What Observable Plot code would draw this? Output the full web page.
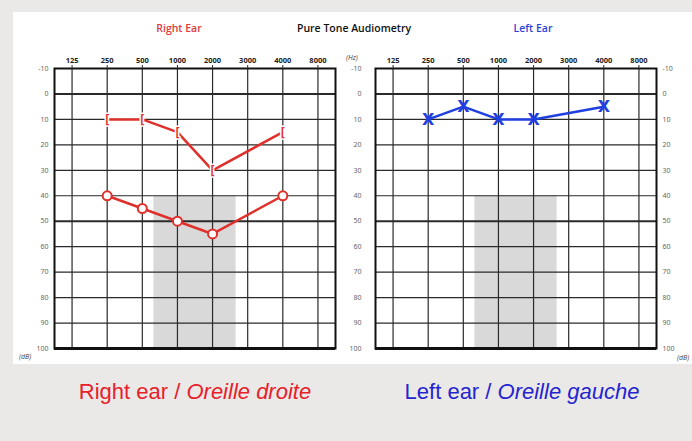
<!DOCTYPE html>
<html>
<head>
<meta charset="utf-8">
<script src="https://cdn.jsdelivr.net/npm/d3@7"></script>
<script src="https://cdn.jsdelivr.net/npm/@observablehq/plot@0.6"></script>
<style>
  html, body { margin: 0; padding: 0; }
  body { width: 692px; height: 441px; background: #ebe9e7; overflow: hidden; }
  #wrap { position: relative; width: 692px; height: 441px; }
  #panel { position: absolute; left: 13px; top: 12px; width: 679px; height: 352px; background: #fff; }
  .abs { position: absolute; white-space: nowrap; }
  .hdr { font-family: "Open Sans", sans-serif; font-weight: 600; font-size: 10.5px; transform: translate(-50%, -50%); }
  .unit { font-family: "Open Sans", sans-serif; font-style: italic; font-size: 7px; color: #444; transform: translate(0, -50%); }
  .big { font-family: "Liberation Sans", Arial, sans-serif; font-size: 22px; transform: translate(-50%, -50%); }
  .plot { position: absolute; top: 0; }
</style>
</head>
<body>
<div id="wrap">
  <div id="panel"></div>
  <div class="abs hdr" style="left:179px;top:28px;color:#e03a3a;">Right Ear</div>
  <div class="abs hdr" style="left:354px;top:28px;color:#111;">Pure Tone Audiometry</div>
  <div class="abs hdr" style="left:533px;top:28px;color:#2a44d8;">Left Ear</div>
  <div class="abs unit" style="left:346px;top:57px;">(Hz)</div>
  <div class="abs unit" style="left:19px;top:356px;">(dB)</div>
  <div class="abs unit" style="left:677px;top:357px;">(dB)</div>
  <div class="abs big" style="left:195px;top:392px;color:#e8202a;">Right ear / <i>Oreille droite</i></div>
  <div class="abs big" style="left:522px;top:392px;color:#2424d0;">Left ear / <i>Oreille gauche</i></div>
  <div id="p1" class="plot" style="left:0px;"></div>
  <div id="p2" class="plot" style="left:345px;"></div>
</div>
<script>
// ---- data ----
const freqLabels = ["125", "250", "500", "1000", "2000", "3000", "4000", "8000"];
const dbTicks = [-10, 0, 10, 20, 30, 40, 50, 60, 70, 80, 90, 100];
const heavyDb = [0, 50];
// shaded zone: frequency-index range and dB range
const shadeFreq = [2.33, 4.67];
const shadeDb = [40, 100];
// measured thresholds (frequency label -> dB HL)
const rightAirFreq = ["250", "500", "1000", "2000", "4000"];
const rightAirDb = [40, 45, 50, 55, 40];
const rightBoneFreq = ["250", "500", "1000", "2000", "4000"];
const rightBoneDb = [10, 10, 15, 30, 15];
const leftAirFreq = ["250", "500", "1000", "2000", "4000"];
const leftAirDb = [10, 5, 10, 10, 5];

const idx = f => freqLabels.indexOf(f);
const toRows = (fs, ds) => fs.map((f, i) => ({x: idx(f), db: ds[i]}));

const RED = "#e0302c";
const BLUE = "#1f3fe0";
const GRID = "#2a2a2a";

function audiogram({width, marginLeft, marginRight, leftPad, rightAxis, marks}) {
  const xs = d3.range(freqLabels.length);
  return Plot.plot({
    width, height: 370,
    marginLeft, marginRight, marginTop: 68, marginBottom: 22,
    style: {background: "transparent", overflow: "visible"},
    x: {type: "linear", domain: [-0.5, freqLabels.length - 0.5]},
    y: {domain: [-10, 100], reverse: true},
    marks: [
      Plot.rect([{}], {x1: shadeFreq[0], x2: shadeFreq[1], y1: shadeDb[0], y2: shadeDb[1], fill: "#d9d9d9"}),
      Plot.ruleX(xs, {x: d => d, y1: -10, y2: 100, stroke: GRID, strokeWidth: 1.2}),
      Plot.ruleY(dbTicks, {y: d => d, stroke: GRID, strokeWidth: d => heavyDb.includes(d) ? 2 : 1.2}),
      Plot.frame({stroke: "#111", strokeWidth: 2}),
      Plot.ruleY([100], {stroke: "#111", strokeWidth: 3}),
      Plot.axisX({anchor: "top", ticks: xs, tickFormat: i => freqLabels[i], tickSize: 4, tickPadding: 2,
        fontSize: 7.5, fontWeight: "bold", fill: "#222", stroke: GRID, label: null}),
      Plot.axisY({anchor: "left", ticks: dbTicks, tickSize: 0, tickPadding: leftPad, fontSize: 7, fill: "#666", label: null, tickFormat: d => String(d)}),
      ...(rightAxis ? [Plot.axisY({anchor: "right", ticks: dbTicks, tickSize: 0, tickPadding: 6, fontSize: 7, fill: "#666", label: null, tickFormat: d => String(d)})] : []),
      ...marks
    ]
  });
}

const rAir = toRows(rightAirFreq, rightAirDb);
const rBone = toRows(rightBoneFreq, rightBoneDb);
const lAir = toRows(leftAirFreq, leftAirDb);

const p1 = audiogram({
  width: 345, marginLeft: 54, marginRight: 10, leftPad: 6, rightAxis: false,
  marks: [
    Plot.line(rBone, {x: "x", y: "db", stroke: RED, strokeWidth: 2.5}),
    Plot.text(rBone, {x: "x", y: "db", text: d => "[", fill: RED, fontSize: 12, fontWeight: "bold", stroke: "white", strokeWidth: 3, paintOrder: "stroke"}),
    Plot.line(rAir, {x: "x", y: "db", stroke: RED, strokeWidth: 2.5}),
    Plot.dot(rAir, {x: "x", y: "db", r: 4.5, stroke: RED, strokeWidth: 2, fill: "white"})
  ]
});
const p2 = audiogram({
  width: 347, marginLeft: 30, marginRight: 36, leftPad: 14, rightAxis: true,
  marks: [
    Plot.line(lAir, {x: "x", y: "db", stroke: BLUE, strokeWidth: 2.5}),
    Plot.text(lAir, {x: "x", y: "db", text: d => "X", fill: BLUE, fontSize: 16, fontWeight: "bold", fontFamily: "DejaVu Sans"})
  ]
});
document.getElementById("p1").appendChild(p1);
document.getElementById("p2").appendChild(p2);
</script>
</body>
</html>
